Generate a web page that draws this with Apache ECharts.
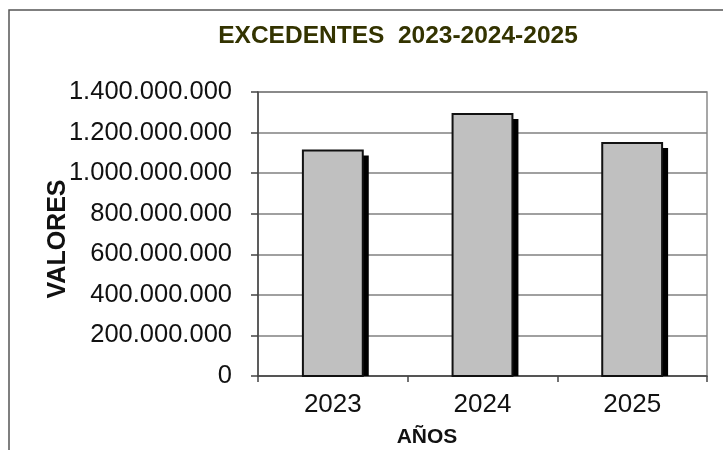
<!DOCTYPE html>
<html>
<head>
<meta charset="utf-8">
<script src="https://cdn.jsdelivr.net/npm/echarts@6/dist/echarts.min.js"></script>
<style>
html,body{margin:0;padding:0;background:#fff;}
#chart{width:723px;height:466px;}
</style>
</head>
<body>
<div id="chart"></div>
<script>
const titleText = 'EXCEDENTES  2023-2024-2025';
const xAxisTitle = 'AÑOS';
const yAxisTitle = 'VALORES';
const categories = ['2023', '2024', '2025'];
const excedentes = [1112000000, 1291000000, 1148000000];
const yMin = 0, yMax = 1400000000, yStep = 200000000;

function fmt(v){ return String(v).replace(/\B(?=(\d{3})+(?!\d))/g, '.'); }

const chart = echarts.init(document.getElementById('chart'));
chart.setOption({
  animation: false,
  backgroundColor: '#fff',
  grid: { left: 258, right: 16, top: 92, bottom: 90, show: true, borderColor: '#8a8a8a', borderWidth: 1.5 },
  xAxis: {
    type: 'category', data: categories,
    axisLine: { lineStyle: { color: '#444', width: 1.5 } },
    axisTick: { show: true, alignWithLabel: false, length: 6, lineStyle: { color: '#444', width: 1.5 } },
    axisLabel: { fontFamily: 'Liberation Sans, Arial, sans-serif', fontSize: 26, color: '#111', margin: 16 }
  },
  yAxis: {
    type: 'value', min: yMin, max: yMax, interval: yStep,
    axisLine: { show: true, lineStyle: { color: '#444', width: 1.5 } },
    axisTick: { show: true, length: 7, lineStyle: { color: '#444', width: 1.5 } },
    splitLine: { lineStyle: { color: '#808080', width: 1.5 } },
    axisLabel: { fontFamily: 'Liberation Sans, Arial, sans-serif', fontSize: 25.5, color: '#111', margin: 26, formatter: fmt }
  },
  series: [{
    type: 'custom',
    data: categories.map((c, i) => [i, excedentes[i]]),
    encode: { x: 0, y: 1 },
    renderItem: function(params, api){
      const top = api.coord([api.value(0), api.value(1)]);
      const base = api.coord([api.value(0), 0]);
      const w = api.size([1, 0])[0] * 0.4;
      const x0 = top[0] - w / 2;
      return {
        type: 'group',
        children: [
          { type: 'rect', shape: { x: x0 + 6, y: top[1] + 5, width: w, height: base[1] - top[1] - 5 }, style: { fill: '#000' } },
          { type: 'rect', shape: { x: x0, y: top[1], width: w, height: base[1] - top[1] }, style: { fill: '#c0c0c0', stroke: '#111', lineWidth: 2 } }
        ]
      };
    }
  }],
  graphic: [
    { type: 'polyline', shape: { points: [[9, 450], [9, 10], [723, 10]] }, style: { stroke: '#555', lineWidth: 1.5, fill: null } },
    { type: 'text', x: 398, y: 36, style: { text: titleText, align: 'center', verticalAlign: 'middle', fontFamily: 'Liberation Sans, Arial, sans-serif', fontWeight: 'bold', fontSize: 24.5, fill: '#333300' } },
    { type: 'text', x: 427, y: 437, style: { text: xAxisTitle, align: 'center', verticalAlign: 'middle', fontFamily: 'Liberation Sans, Arial, sans-serif', fontWeight: 'bold', fontSize: 21, fill: '#111' } },
    { type: 'text', x: 58, y: 239, rotation: Math.PI / 2, style: { text: yAxisTitle, align: 'center', verticalAlign: 'middle', fontFamily: 'Liberation Sans, Arial, sans-serif', fontWeight: 'bold', fontSize: 25, fill: '#111' } }
  ]
});
</script>
</body>
</html>
